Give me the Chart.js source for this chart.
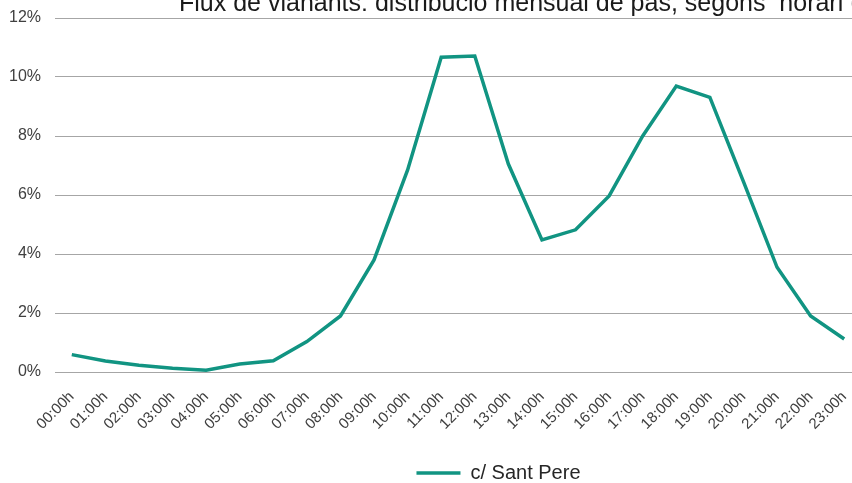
<!DOCTYPE html>
<html>
<head>
<meta charset="utf-8">
<script src="https://cdn.jsdelivr.net/npm/chart.js@4/dist/chart.umd.min.js"></script>
<style>
  html, body { margin: 0; padding: 0; background: #fff; width: 852px; height: 483px; overflow: hidden; }
  #wrap { position: relative; width: 852px; height: 483px; overflow: hidden; }
  #title { position: absolute; left: 179px; top: -10px; font-family: "Liberation Sans", Arial, sans-serif; font-size: 25px; line-height: 24px; color: #1a1a1a; white-space: pre; z-index: 2; }
  canvas { position: absolute; left: 0; top: 0; }
</style>
</head>
<body>
<div id="wrap">
  <div id="title">Flux de vianants: distribució mensual de pas, segons  horari (%)</div>
  <canvas id="c" width="861" height="483"></canvas>
</div>
<script>
const hours = ["00:00h","01:00h","02:00h","03:00h","04:00h","05:00h","06:00h","07:00h","08:00h","09:00h","10:00h","11:00h","12:00h","13:00h","14:00h","15:00h","16:00h","17:00h","18:00h","19:00h","20:00h","21:00h","22:00h","23:00h"];
const seriesName = "c/ Sant Pere";
const santPere = [0.59, 0.37, 0.23, 0.13, 0.06, 0.27, 0.38, 1.03, 1.90, 3.80, 6.85, 10.67, 10.71, 7.05, 4.48, 4.82, 5.97, 8.00, 9.69, 9.31, 6.45, 3.55, 1.90, 1.12];
const yTicks = [0, 2, 4, 6, 8, 10, 12];

const lineColor = "#119482";
const labelColor = "#404040";
const gridColor = "#a6a6a6";

const legendShift = {
  id: "legendShift",
  afterLayout(chart) {
    const lg = chart.legend;
    if (!lg) return;
    lg.left += 136;
    lg.top += 10;
    lg.bottom += 10;
  }
};

new Chart(document.getElementById("c"), {
  type: "line",
  data: {
    labels: hours,
    datasets: [{
      label: seriesName,
      data: santPere,
      borderColor: lineColor,
      backgroundColor: lineColor,
      borderWidth: 3.5,
      pointRadius: 0,
      tension: 0,
      fill: false
    }]
  },
  plugins: [legendShift],
  options: {
    responsive: false,
    animation: false,
    layout: { padding: { top: 18, right: 0, bottom: 0, left: 0 } },
    plugins: {
      title: { display: false },
      tooltip: { enabled: false },
      legend: {
        position: "bottom",
        labels: {
          usePointStyle: true,
          pointStyle: "line",
          pointStyleWidth: 44,
          color: "#262626",
          font: { family: "'Liberation Sans', Arial, sans-serif", size: 20 },
          padding: 10
        }
      }
    },
    scales: {
      x: {
        offset: true,
        grid: { display: false, drawTicks: false },
        border: { display: false },
        ticks: {
          autoSkip: false,
          maxRotation: 45,
          minRotation: 45,
          color: labelColor,
          padding: 16,
          font: { family: "'Liberation Sans', Arial, sans-serif", size: 15 }
        },
        afterFit: (s) => { s.height = 71; s.paddingLeft = 0; s.paddingRight = 0; }
      },
      y: {
        min: 0,
        max: 12,
        afterBuildTicks: (s) => { s.ticks = yTicks.map(v => ({ value: v })); },
        grid: { color: gridColor, lineWidth: 1, drawTicks: false },
        border: { display: false },
        ticks: {
          color: labelColor,
          padding: 14,
          font: { family: "'Liberation Sans', Arial, sans-serif", size: 16 },
          callback: (v) => v + "%"
        },
        afterFit: (s) => { s.width = 55; s.paddingTop = 0; s.paddingBottom = 0; }
      }
    }
  }
});
</script>
</body>
</html>
